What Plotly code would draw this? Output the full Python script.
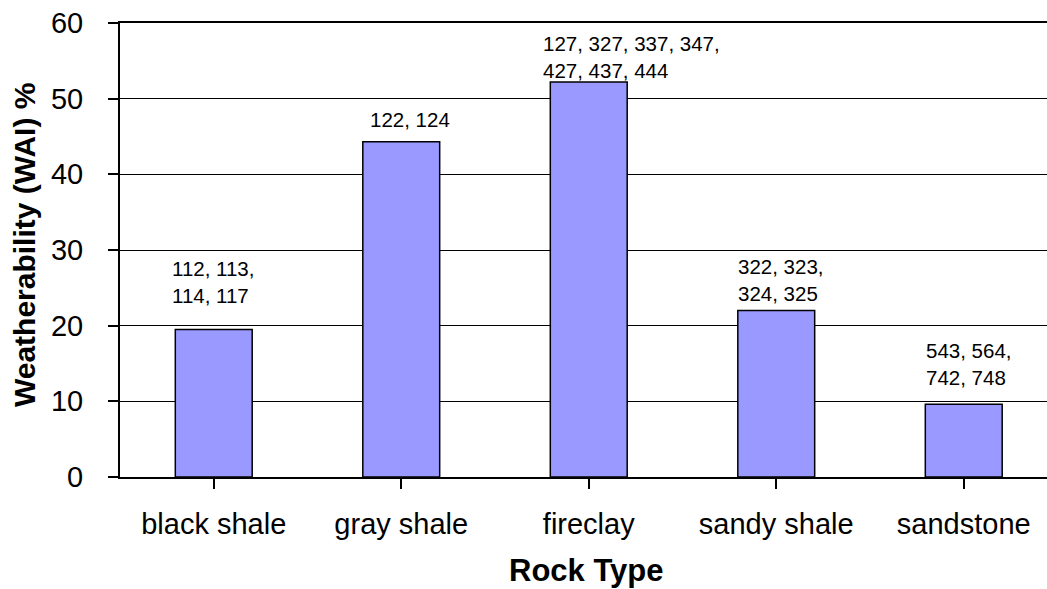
import plotly.graph_objects as go

categories = ["black shale", "gray shale", "fireclay", "sandy shale", "sandstone"]
wai_values = [19.5, 44.3, 52.2, 22.0, 9.6]
sample_labels = [
    "112, 113,<br>114, 117",
    "122, 124",
    "127, 327, 337, 347,<br>427, 437, 444",
    "322, 323,<br>324, 325",
    "543, 564,<br>742, 748",
]
# label anchor positions (category units / data units)
label_x = [-0.233, 0.824, 1.744, 2.785, 3.788]
label_y = [25.8, 47.2, 55.5, 26.1, 15.0]
y_ticks = [0, 10, 20, 30, 40, 50, 60]

FONT = "Liberation Sans, Arial, sans-serif"

fig = go.Figure()
fig.add_trace(go.Bar(
    x=list(range(len(categories))),
    y=wai_values,
    width=0.41,
    marker=dict(color="#9999FF", line=dict(color="black", width=1.5)),
    showlegend=False,
    hoverinfo="skip",
))

for lx, ly, txt in zip(label_x, label_y, sample_labels):
    fig.add_annotation(
        x=lx, y=ly, xref="x", yref="y", text=txt, showarrow=False,
        xanchor="left", yanchor="middle", align="left",
        font=dict(family=FONT, size=20.5, color="black"),
    )

fig.add_annotation(
    text="<b>Weatherability (WAI) %</b>", xref="paper", yref="paper",
    x=-0.1036, y=0.513, textangle=-90, showarrow=False,
    xanchor="center", yanchor="middle",
    font=dict(family=FONT, size=30, color="black"),
)
fig.add_annotation(
    text="<b>Rock Type</b>", xref="paper", yref="paper",
    x=0.503, y=-0.207, showarrow=False,
    xanchor="center", yanchor="middle",
    font=dict(family=FONT, size=31, color="black"),
)

fig.update_layout(
    width=1047, height=589,
    margin=dict(l=120, r=0, t=23, b=112),
    plot_bgcolor="white", paper_bgcolor="white",
    font=dict(family=FONT, color="black"),
)
fig.update_xaxes(
    range=[-0.5, 4.444],
    tickmode="array",
    tickvals=list(range(len(categories))),
    ticktext=categories,
    tickson="boundaries",
    ticks="outside", ticklen=10, tickwidth=1.5, tickcolor="black",
    showline=True, linecolor="black", linewidth=1.5, mirror=True,
    showgrid=False, zeroline=False,
    tickfont=dict(family=FONT, size=29, color="black"),
    ticklabelstandoff=10,
)
fig.update_yaxes(
    range=[0, 60],
    tickmode="array", tickvals=y_ticks,
    ticks="outside", ticklen=10, tickwidth=1.5, tickcolor="black",
    showline=True, linecolor="black", linewidth=2,
    showgrid=True, gridcolor="black", gridwidth=1.2,
    zeroline=False,
    tickfont=dict(family=FONT, size=29, color="black"),
    ticklabelstandoff=19,
)

# remove the default 8px page margin so the figure sits at the window's corner
fig.write_html(
    "out.html",
    config={"displayModeBar": False},
    post_script="document.body.style.margin='0';",
)
